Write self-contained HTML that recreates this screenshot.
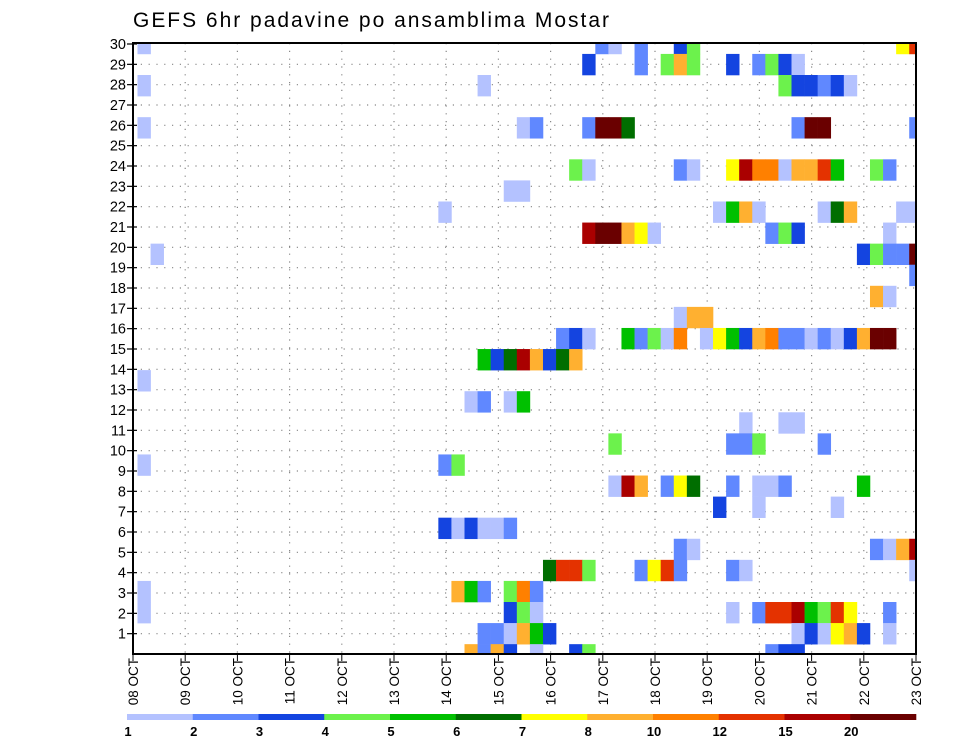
<!DOCTYPE html>
<html><head><meta charset="utf-8"><style>
html,body{margin:0;padding:0;background:#fff;}
svg{display:block;font-family:"Liberation Sans",sans-serif;}
</style></head><body>
<svg id="chart" width="960" height="742" viewBox="0 0 960 742" xmlns="http://www.w3.org/2000/svg">
<text x="133" y="27" font-size="21" fill="#000" textLength="476" lengthAdjust="spacing">GEFS 6hr padavine po ansamblima Mostar</text>
<defs><clipPath id="plotclip"><rect x="133" y="43" width="783" height="611"/></clipPath></defs>
<g id="grid"></g>
<g id="cells" clip-path="url(#plotclip)"></g>
<rect x="133" y="43" width="783" height="611" fill="none" stroke="#000" stroke-width="2"/>
<g id="yaxis"></g>
<g id="xaxis"></g>
<g id="legend"></g>
</svg>
<script>
const dayLabels = ["08 OCT","09 OCT","10 OCT","11 OCT","12 OCT","13 OCT","14 OCT","15 OCT","16 OCT","17 OCT","18 OCT","19 OCT","20 OCT","21 OCT","22 OCT","23 OCT"];
const memberLabels = [1,2,3,4,5,6,7,8,9,10,11,12,13,14,15,16,17,18,19,20,21,22,23,24,25,26,27,28,29,30];
const binEdges = [1,2,3,4,5,6,7,8,10,12,15,20];
const binLabels = ["1","2","3","4","5","6","7","8","10","12","15","20"];
const binColors = ["#b4c2ff","#6088ff","#1444e0","#6cf24c","#00c000","#006e00","#ffff00","#ffb030","#ff8000","#e43200","#aa0000","#6a0000"];
// each row: ensemble member slot (top to bottom); "step:value" pairs, step = 6-hour index
const precip = [
"0:1 35:2 36:1 38:2 41:3 42:4 58:7 59:12",
"34:3 38:2 40:4 41:8 42:4 45:3 47:2 48:4 49:3 50:1",
"0:1 26:1 49:4 50:3 51:3 52:2 53:3 54:1",
"",
"0:1 29:1 30:2 34:2 35:20 36:20 37:6 50:2 51:20 52:20 59:2",
"",
"33:4 34:1 41:2 42:1 45:7 46:15 47:10 48:10 49:1 50:8 51:8 52:12 53:5 56:4 57:2",
"28:1 29:1",
"23:1 44:1 45:5 46:8 47:1 52:1 53:6 54:8 58:1 59:1",
"34:15 35:20 36:20 37:8 38:7 39:1 48:2 49:4 50:3 57:1",
"1:1 55:3 56:4 57:2 58:2 59:20",
"59:2",
"56:8 57:1",
"41:1 42:8 43:8",
"32:2 33:3 34:1 37:5 38:2 39:4 40:1 41:10 43:1 44:7 45:5 46:3 47:8 48:10 49:2 50:2 51:1 52:2 53:1 54:3 55:8 56:20 57:20",
"26:5 27:3 28:6 29:15 30:8 31:3 32:6 33:8",
"0:1",
"25:1 26:2 28:1 29:5",
"46:1 49:1 50:1",
"36:4 45:2 46:2 47:4 52:2",
"0:1 23:2 24:4",
"36:1 37:15 38:8 40:2 41:7 42:6 45:2 47:1 48:1 49:2 55:5",
"44:3 47:1 53:1",
"23:3 24:1 25:3 26:1 27:1 28:2",
"41:2 42:1 56:2 57:1 58:8 59:15",
"31:6 32:12 33:12 34:4 38:2 39:7 40:12 41:2 45:2 46:1 59:1",
"0:1 24:8 25:5 26:2 28:4 29:10 30:2",
"0:1 28:3 29:4 30:1 45:1 47:2 48:12 49:12 50:15 51:5 52:4 53:12 54:7 57:2",
"26:2 27:2 28:1 29:8 30:5 31:3 50:1 51:3 52:1 53:7 54:8 55:3 57:1",
"25:8 26:2 27:8 28:3 30:1 33:3 34:4 48:2 49:3 50:3"
];

const NS = "http://www.w3.org/2000/svg";
const PL = 133, PR = 916, PT = 43, PB = 654;
const stepW = 13.08, stepX0 = 137.5;
const slotH = 21.08, slotY0 = 32.84;
const dayW = (PR - PL) / (dayLabels.length - 1);
const rowH = (PB - 44) / 30;
function xStep(i){ return stepX0 + stepW * i; }
function ySlot(s){ return slotY0 + slotH * s; }
function xDay(d){ return PL + dayW * d; }
function yMember(m){ return PB - rowH * m; }
function colorFor(v){ let k = -1; for (let i = 0; i < binEdges.length; i++) if (v >= binEdges[i]) k = i; return k < 0 ? null : binColors[k]; }
function mk(tag, attrs, parent){ const e = document.createElementNS(NS, tag); for (const k in attrs) e.setAttribute(k, attrs[k]); parent.appendChild(e); return e; }

const grid = document.getElementById('grid');
for (let m = 1; m < memberLabels.length; m++) {
  const y = yMember(memberLabels[m-1]);
  const l = mk('line', {x1: PL, x2: PR, y1: y, y2: y, stroke: '#888', 'stroke-width': 1.2, 'stroke-dasharray': '1.2 6.6'}, grid);
  
  
}
for (let d = 1; d < dayLabels.length - 1; d++) {
  const x = xDay(d);
  const l = mk('line', {x1: x, x2: x, y1: PT, y2: PB, stroke: '#888', 'stroke-width': 1.2, 'stroke-dasharray': '1.2 6.6'}, grid);
  
  
}

const cells = document.getElementById('cells');
precip.forEach((row, s) => {
  if (!row) return;
  row.split(' ').forEach(p => {
    const [i, v] = p.split(':').map(Number);
    const c = colorFor(v);
    if (!c) return;
    const r = mk('rect', {x: xStep(i), y: ySlot(s), width: stepW + 0.3, height: slotH + 0.3, fill: c}, cells);
    
    
  });
});

const yaxis = document.getElementById('yaxis');
memberLabels.forEach(m => {
  const y = yMember(m);
  const t = mk('line', {x1: PL - 6, x2: PL + 4, y1: y, y2: y, stroke: '#000', 'stroke-width': 1.2}, yaxis);
  
  
  const tx = mk('text', {x: PL - 7, y: y + 5, 'text-anchor': 'end', 'font-size': 14.5, fill: '#000'}, yaxis);
  tx.textContent = String(m);
  
  
});

const xaxis = document.getElementById('xaxis');
dayLabels.forEach((lab, d) => {
  const x = xDay(d);
  const t = mk('line', {x1: x, x2: x, y1: PB, y2: PB + 7, stroke: '#000', 'stroke-width': 1}, xaxis);
  
  
  const tx = mk('text', {x: 0, y: 0, 'text-anchor': 'end', 'font-size': 13.5, fill: '#000', transform: 'translate(' + (x + 5) + ',' + (PB + 4) + ') rotate(-90)'}, xaxis);
  tx.textContent = lab;
  
  
});

const legend = document.getElementById('legend');
const LX = 127, LW = (916 - 127) / binColors.length;
binColors.forEach((c, k) => {
  const r = mk('rect', {x: LX + LW * k, y: 714, width: LW + 0.3, height: 6, fill: c}, legend);
  
  
  const tx = mk('text', {x: LX + LW * k + 1, y: 736, 'text-anchor': 'middle', 'font-size': 13, 'font-weight': 'bold', fill: '#000'}, legend);
  tx.textContent = binLabels[k];
  
  
});
</script>
</body></html>
